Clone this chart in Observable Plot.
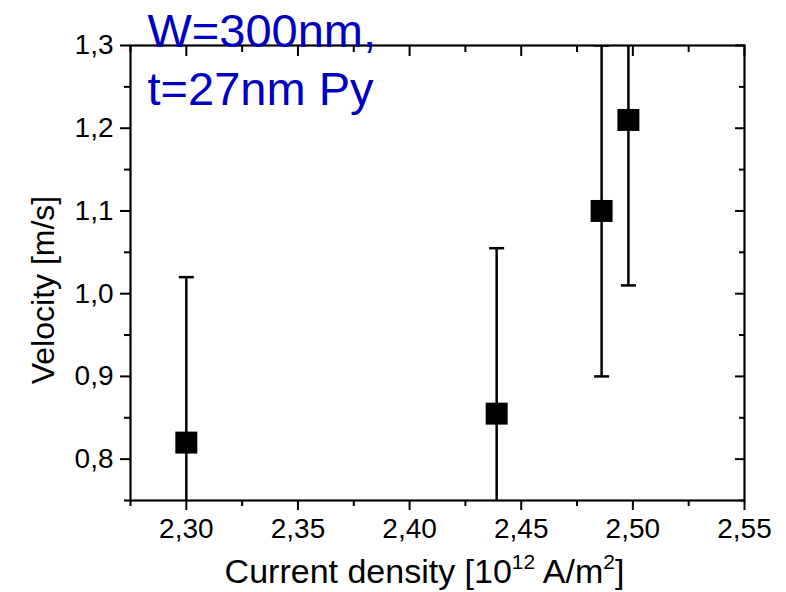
<!DOCTYPE html>
<html>
<head>
<meta charset="utf-8">
<script src="https://cdn.jsdelivr.net/npm/d3@7"></script>
<script src="https://cdn.jsdelivr.net/npm/@observablehq/plot@0.6"></script>
<style>
  html, body { margin: 0; padding: 0; background: #fff; }
  svg { display: block; }
</style>
</head>
<body>
<div id="chart"></div>
<script>
// Data
const density = [2.30, 2.439, 2.486, 2.498];     // Current density [10^12 A/m^2]
const velocity = [0.82, 0.855, 1.10, 1.21];      // Velocity [m/s]
const errorBar = [0.20, 0.20, 0.20, 0.20];       // ± error

const xTicks = [2.30, 2.35, 2.40, 2.45, 2.50, 2.55];
const xMinorTicks = [2.275, 2.325, 2.375, 2.425, 2.475, 2.525];
const yTicks = [0.8, 0.9, 1.0, 1.1, 1.2, 1.3];
const yMinorTicks = [0.75, 0.85, 0.95, 1.05, 1.15, 1.25];

// x label pieces: [text, isSuperscript]
const xLabelParts = [["Current density [10", false], ["12", true], [" A/m", false], ["2", true], ["]", false]];
const xLabel = xLabelParts.map(p => p[0]).join("");
const yLabel = "Velocity [m/s]";
const annotation = "W=300nm,\nt=27nm Py";

const rows = density.map((x, i) => ({
  x, y: velocity[i], lo: velocity[i] - errorBar[i], hi: velocity[i] + errorBar[i]
}));

const capSymbol = {
  draw(context, size) {
    const w = Math.sqrt(size / Math.PI);
    context.moveTo(-w, 0);
    context.lineTo(w, 0);
  }
};

const fmtX = d => d.toFixed(2).replace(".", ",");
const fmtY = d => d.toFixed(1).replace(".", ",");
const font = "'Liberation Sans', Arial, sans-serif";

const chart = Plot.plot({
  width: 786,
  height: 592,
  marginLeft: 130,
  marginRight: 42,
  marginTop: 45,
  marginBottom: 92,
  style: { fontFamily: font, color: "#000", background: "#fff", overflow: "visible" },
  x: { domain: [2.275, 2.55] },
  y: { domain: [0.75, 1.3] },
  marks: [
    // error bars
    Plot.ruleX(rows, { x: "x", y1: "lo", y2: "hi", stroke: "#000", strokeWidth: 2.5, clip: true }),
    Plot.dot(rows, { x: "x", y: "hi", symbol: capSymbol, r: 7.5, stroke: "#000", strokeWidth: 2.5, fill: "none", clip: true }),
    Plot.dot(rows, { x: "x", y: "lo", symbol: capSymbol, r: 7.5, stroke: "#000", strokeWidth: 2.5, fill: "none", clip: true }),
    // markers
    Plot.dot(rows, { x: "x", y: "y", symbol: "square", r: 12.4, fill: "#000", stroke: "none" }),
    // frame
    Plot.frame({ stroke: "#000", strokeWidth: 2.2 }),
    // bottom axis (outward ticks)
    Plot.axisX(xTicks, { anchor: "bottom", tickSize: 10, tickPadding: 8, tickFormat: fmtX, fontSize: 28, strokeWidth: 2, label: null }),
    Plot.axisX(xMinorTicks, { anchor: "bottom", tickSize: 6, text: null, strokeWidth: 2, label: null }),
    // top axis (inward ticks)
    Plot.axisX(xTicks, { anchor: "top", tickSize: -10, text: null, strokeWidth: 2, label: null }),
    Plot.axisX(xMinorTicks, { anchor: "top", tickSize: -6, text: null, strokeWidth: 2, label: null }),
    // left axis (outward)
    Plot.axisY(yTicks, { anchor: "left", tickSize: 10, tickPadding: 7, tickFormat: fmtY, fontSize: 28, strokeWidth: 2, label: null }),
    Plot.axisY(yMinorTicks, { anchor: "left", tickSize: 6, text: null, strokeWidth: 2, label: null }),
    // right axis (inward)
    Plot.axisY(yTicks, { anchor: "right", tickSize: -10, text: null, strokeWidth: 2, label: null }),
    Plot.axisY(yMinorTicks, { anchor: "right", tickSize: -6, text: null, strokeWidth: 2, label: null }),
    // axis titles
    Plot.text([xLabel], { text: d => d, frameAnchor: "bottom", lineAnchor: "bottom", dy: 82, dx: -13, fontSize: 34, fill: "#000", className: "xlabel" }),
    Plot.text([yLabel], { text: d => d, frameAnchor: "left", rotate: -90, lineAnchor: "bottom", textAnchor: "middle", dx: -77, dy: 17, fontSize: 32, fill: "#000" }),
    // annotation
    Plot.text([annotation], { text: d => d, frameAnchor: "top-left", textAnchor: "start", lineAnchor: "top", dx: 17, dy: -40, fontSize: 47, lineHeight: 1.234, fill: "#0000c0" })
  ]
});

// Render superscripts in the x-axis title
const xl = d3.select(chart).select("g.xlabel text");
if (!xl.empty()) {
  xl.text(null);
  xLabelParts.forEach(([t, sup]) => {
    const ts = xl.append("tspan").text(t);
    if (sup) ts.attr("font-size", 21).attr("baseline-shift", "14");
  });
}

document.getElementById("chart").appendChild(chart);
</script>
</body>
</html>
